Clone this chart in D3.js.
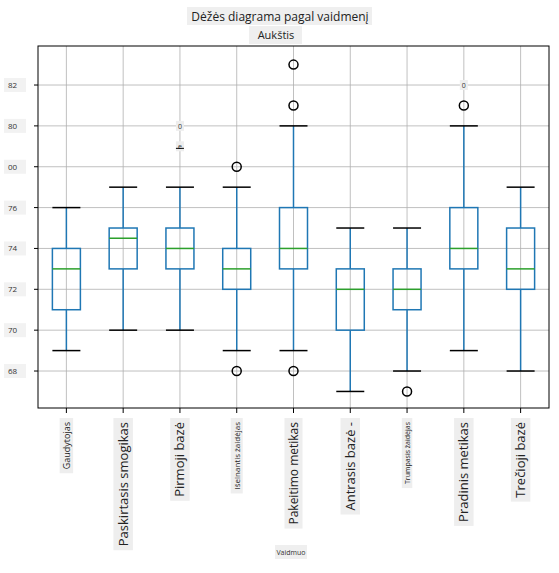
<!DOCTYPE html><html><head><meta charset="utf-8"><script src="https://cdn.jsdelivr.net/npm/d3@7"></script>
<style>body{margin:0;background:#fff;font-family:"Open Sans","Noto Sans",sans-serif}</style></head><body><svg id="c" width="559" height="573"></svg>
<script>
const categories=["Gaudytojas","Paskirtasis smogikas","Pirmoji bazė","Išeinantis žaidėjas","Pakeitimo metikas","Antrasis bazė -","Trumpasis žaidėjas","Pradinis metikas","Trečioji bazė"];
const labelSizes=[9,13,13,8,12,13,7,13,13];
const whislo=[69,70,70,69,69,67,68,69,68];
const q1=[71,73,73,72,73,70,71,73,72];
const med=[73,74.5,74,73,74,72,72,74,73];
const q3=[74,75,75,74,76,73,73,76,75];
const whishi=[76,77,77,77,80,75,75,80,77];
const fliers=[[],[],[],[78,68],[81,83,68],[],[67],[81],[]];
const yTicks=[68,70,72,74,76,78,80,82];
const yTickLabels=["68","70","72","74","76","00","80","82"];
const svg=d3.select("#c");
const L=38,R=549,T=46,B=408;
const x=d3.scaleBand().domain(categories).range([L,R]);
const y=d3.scaleLinear().domain([66.19,83.91]).range([B,T]);
const g=svg.append("g");
g.selectAll(".gx").data(categories).join("line").attr("x1",d=>x(d)+x.bandwidth()/2).attr("x2",d=>x(d)+x.bandwidth()/2).attr("y1",T).attr("y2",B).attr("stroke","#b0b0b0").attr("stroke-width",0.8);
g.selectAll(".gy").data(yTicks).join("line").attr("x1",L).attr("x2",R).attr("y1",d=>y(d)).attr("y2",d=>y(d)).attr("stroke","#b0b0b0").attr("stroke-width",0.8);
const bw=28,cap=14;
categories.forEach((c,i)=>{
 const cx=x(c)+x.bandwidth()/2;
 const b=g.append("g");
 b.append("line").attr("x1",cx).attr("x2",cx).attr("y1",y(whislo[i])).attr("y2",y(q1[i])).attr("stroke","#1f77b4").attr("stroke-width",1.5);
 b.append("line").attr("x1",cx).attr("x2",cx).attr("y1",y(q3[i])).attr("y2",y(whishi[i])).attr("stroke","#1f77b4").attr("stroke-width",1.5);
 [whislo[i],whishi[i]].forEach(v=>b.append("line").attr("x1",cx-cap).attr("x2",cx+cap).attr("y1",y(v)).attr("y2",y(v)).attr("stroke","#000").attr("stroke-width",1.5));
 b.append("rect").attr("x",cx-bw/2).attr("width",bw).attr("y",y(q3[i])).attr("height",y(q1[i])-y(q3[i])).attr("fill","none").attr("stroke","#1f77b4").attr("stroke-width",1.5);
 b.append("line").attr("x1",cx-bw/2).attr("x2",cx+bw/2).attr("y1",y(med[i])).attr("y2",y(med[i])).attr("stroke","#2ca02c").attr("stroke-width",1.5);
 fliers[i].forEach(v=>b.append("circle").attr("cx",cx).attr("cy",y(v)).attr("r",4.5).attr("fill","none").attr("stroke","#000").attr("stroke-width",1.5));
});
const artifacts=[[2,80,"0"],[2,79,"e"],[7,82,"0"]];
artifacts.forEach(([i,v,t])=>{const cx=x(categories[i])+x.bandwidth()/2;
 g.append("rect").attr("x",cx-4).attr("y",y(v)-5).attr("width",8).attr("height",10).attr("fill","#eee");
 g.append("text").attr("x",cx).attr("y",y(v)+3).attr("text-anchor","middle").attr("font-size",7).attr("fill","#333").text(t);});
g.append("line").attr("x1",x(categories[2])+x.bandwidth()/2-4).attr("x2",x(categories[2])+x.bandwidth()/2+4).attr("y1",y(78.9)).attr("y2",y(78.9)).attr("stroke","#000");
svg.append("rect").attr("x",L).attr("y",T).attr("width",R-L).attr("height",B-T).attr("fill","none").attr("stroke","#000").attr("stroke-width",1);
categories.forEach((c,i)=>{const cx=x(c)+x.bandwidth()/2;
 svg.append("line").attr("x1",cx).attr("x2",cx).attr("y1",B).attr("y2",B+5).attr("stroke","#000");
 const lg=svg.append("g");
 const bg=lg.append("rect").attr("fill","#eee");
 const t=lg.append("text").attr("transform",`translate(${cx+labelSizes[i]*0.35},${B+14}) rotate(-90)`).attr("text-anchor","end").attr("font-size",labelSizes[i]).attr("fill","#222").text(c);
 const len=t.node().getComputedTextLength();
 bg.attr("x",cx-labelSizes[i]*0.75).attr("y",B+10).attr("width",labelSizes[i]*1.5).attr("height",len+8);
});
yTicks.forEach((v,i)=>{
 svg.append("line").attr("x1",L-4).attr("x2",L).attr("y1",y(v)).attr("y2",y(v)).attr("stroke","#000");
 svg.append("rect").attr("x",4).attr("y",y(v)-7).attr("width",22).attr("height",14).attr("fill","#f2f2f2");
 svg.append("text").attr("x",8).attr("y",y(v)+3).attr("font-size",8).attr("fill","#333").text(yTickLabels[i]);
});
svg.append("rect").attr("x",187).attr("y",7).attr("width",185).attr("height",18).attr("fill","#efefef");
svg.append("text").attr("x",280).attr("y",21).attr("text-anchor","middle").attr("font-size",12).attr("fill","#222").text("Dėžės diagrama pagal vaidmenį");
svg.append("rect").attr("x",249).attr("y",26).attr("width",53).attr("height",18).attr("fill","#efefef");
svg.append("text").attr("x",276).attr("y",39).attr("text-anchor","middle").attr("font-size",11).attr("fill","#222").text("Aukštis");
svg.append("rect").attr("x",275).attr("y",545).attr("width",32).attr("height",14).attr("fill","#efefef");
svg.append("text").attr("x",291).attr("y",555).attr("text-anchor","middle").attr("font-size",7).attr("fill","#333").text("Vaidmuo");
</script></body></html>
